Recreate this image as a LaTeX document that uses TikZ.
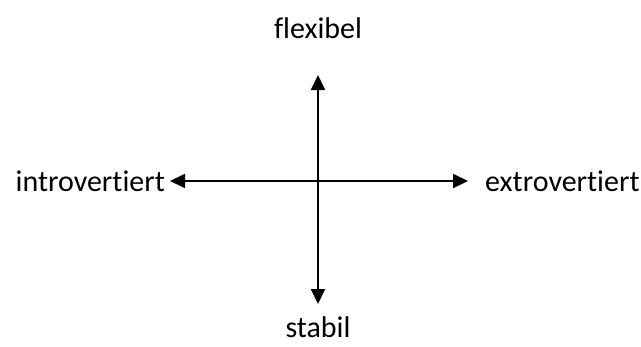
\documentclass[tikz,border=0pt]{standalone}
\usepackage{fontspec}
\setmainfont{Carlito}[Ligatures={NoCommon}]
\usetikzlibrary{arrows.meta}

\begin{document}
\begin{tikzpicture}[
	x=1pt, y=-1pt,
	>={Triangle[length=15pt, width=14pt]},
	font=\fontsize{30}{36}\selectfont,
	% Styles for the axis labels and arrows
	axislabel/.style={inner sep=0pt},
	axisline/.style={<->, line width=2pt, black}
	]
	\useasboundingbox (0,0) rectangle (641,346);
	
	% Axis end labels
	\node[axislabel] (flex) at (318,28) {flexibel};
	\node[axislabel] (stab) at (318,327) {stabil};
	\node[axislabel, anchor=east] (intro) at (165,181) {introvertiert};
	\node[axislabel, anchor=west] (extro) at (485,181) {extrovertiert};
	
	% Arrow end points
	\coordinate (top) at (318,75);
	\coordinate (bottom) at (318,304);
	\coordinate (left) at (170,181);
	\coordinate (right) at (468,181);
	
	% Axes
	\draw[axisline] (bottom) -- (top);
	\draw[axisline] (left) -- (right);
	
\end{tikzpicture}
\end{document}
